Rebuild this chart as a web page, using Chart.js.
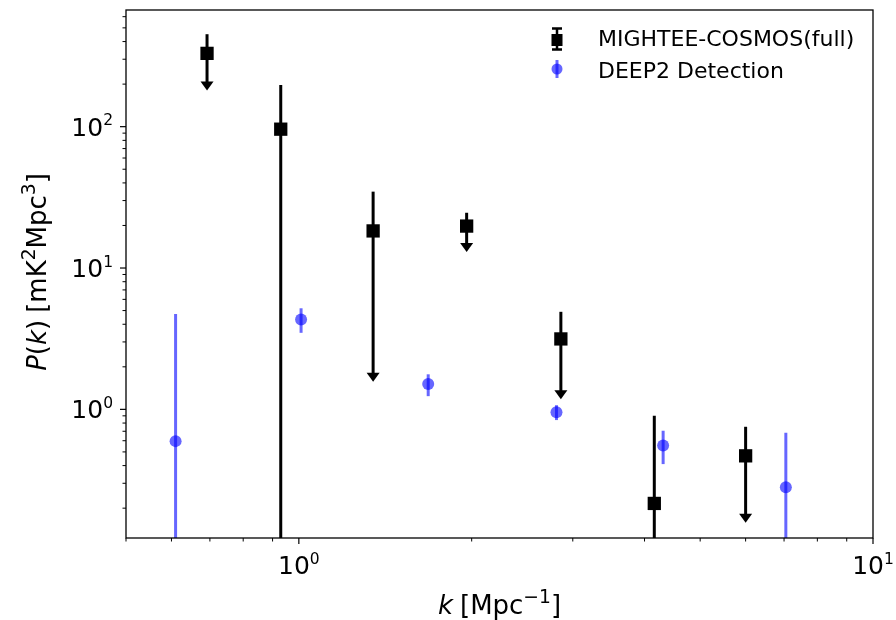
<!DOCTYPE html>
<html>
<head>
<meta charset="utf-8">
<script src="https://cdn.jsdelivr.net/npm/chart.js@4.4.1/dist/chart.umd.min.js"></script>
<style>
  html,body{margin:0;padding:0;background:#fff;}
  #wrap{width:896px;height:620px;}
</style>
</head>
<body>
<div id="wrap"><canvas id="pk" width="896" height="620"></canvas></div>
<script>
// MIGHTEE-COSMOS(full): k, P(k), error top / bottom, upper-limit flag
const mightK  = [0.692, 0.930, 1.347, 1.96, 2.86, 4.16, 6.0];
const mightP  = [330, 96, 18.3, 19.8, 3.15, 0.216, 0.469];
const mightHi = [451, 197, 34.7, 24.6, 4.9, 0.90, 0.753];
const mightLo = [180, 0.01, 1.57, 13.0, 1.18, 0.01, 0.158];
const mightUL = [true, false, true, true, true, false, true];

// DEEP2 Detection
const deepK  = [0.61, 1.009, 1.68, 2.81, 4.31, 7.05];
const deepP  = [0.596, 4.33, 1.51, 0.953, 0.556, 0.281];
const deepHi = [4.73, 5.19, 1.77, 1.07, 0.706, 0.684];
const deepLo = [0.01, 3.48, 1.24, 0.84, 0.41, 0.01];

const xMajor = [1, 10];
const yMajor = [1, 10, 100];
const xRange = [0.5, 10];
const yRange = [0.123, 669];

const FONT = '"DejaVu Sans", sans-serif';
const BLUE = 'rgba(0,0,255,0.6)';

// draw a run of text pieces: {t, it (italic), sup (superscript)}
function richWidth(ctx, parts, size, ss){
  let w = 0;
  parts.forEach(p=>{
    const s = p.sup ? size*ss : size;
    ctx.font = (p.it ? 'oblique ' : '') + s + 'px ' + FONT;
    w += ctx.measureText(p.t).width + (p.gap||0);
  });
  return w;
}
function drawRich(ctx, parts, x, y, size, ss){
  let cx = x;
  parts.forEach(p=>{
    const s = p.sup ? size*ss : size;
    ctx.font = (p.it ? 'oblique ' : '') + s + 'px ' + FONT;
    ctx.fillText(p.t, cx, p.sup ? y - size*0.42 : y);
    cx += ctx.measureText(p.t).width + (p.gap||0);
  });
}
function pow10(e){ return [{t:'10'},{t:String(e), sup:true}]; }

function minorTicks(lo, hi){
  const out = [];
  for(let d=Math.floor(Math.log10(lo)); d<=Math.ceil(Math.log10(hi)); d++){
    for(let m=2;m<=9;m++){ const v = m*Math.pow(10,d); if(v>=lo*0.999 && v<=hi*1.001) out.push(v); }
  }
  return out;
}

const errPlugin = {
  id:'errbars',
  beforeDatasetsDraw(chart){
    const {ctx, chartArea:a, scales:{x, y}} = chart;
    ctx.save();
    ctx.beginPath(); ctx.rect(a.left, a.top, a.right-a.left, a.bottom-a.top); ctx.clip();
    ctx.lineCap = 'butt';
    // black series
    ctx.strokeStyle = '#000'; ctx.fillStyle = '#000'; ctx.lineWidth = 3;
    mightK.forEach((k,i)=>{
      const px = x.getPixelForValue(k);
      const top = y.getPixelForValue(mightHi[i]);
      const bot = y.getPixelForValue(mightLo[i]);
      ctx.beginPath(); ctx.moveTo(px, top); ctx.lineTo(px, mightUL[i] ? bot-4 : bot); ctx.stroke();
      if(mightUL[i]){
        ctx.beginPath(); ctx.moveTo(px-6.5, bot-9); ctx.lineTo(px+6.5, bot-9); ctx.lineTo(px, bot); ctx.closePath(); ctx.fill();
      }
    });
    // blue series
    ctx.strokeStyle = BLUE; ctx.lineWidth = 3;
    deepK.forEach((k,i)=>{
      const px = x.getPixelForValue(k);
      ctx.beginPath(); ctx.moveTo(px, y.getPixelForValue(deepHi[i])); ctx.lineTo(px, y.getPixelForValue(deepLo[i])); ctx.stroke();
    });
    ctx.restore();
  },
  afterDraw(chart){
    const {ctx, chartArea:a, scales:{x, y}} = chart;
    ctx.save();
    // frame
    ctx.strokeStyle = '#000'; ctx.lineWidth = 1.3;
    ctx.strokeRect(a.left, a.top, a.right-a.left, a.bottom-a.top);
    // ticks
    ctx.lineWidth = 1.2;
    xMajor.forEach(v=>{ const p = x.getPixelForValue(v); ctx.beginPath(); ctx.moveTo(p, a.bottom); ctx.lineTo(p, a.bottom+6); ctx.stroke(); });
    yMajor.forEach(v=>{ const p = y.getPixelForValue(v); ctx.beginPath(); ctx.moveTo(a.left, p); ctx.lineTo(a.left-6, p); ctx.stroke(); });
    ctx.lineWidth = 1;
    minorTicks(xRange[0], xRange[1]).forEach(v=>{ const p = x.getPixelForValue(v); ctx.beginPath(); ctx.moveTo(p, a.bottom); ctx.lineTo(p, a.bottom+3.5); ctx.stroke(); });
    minorTicks(yRange[0], yRange[1]).forEach(v=>{ const p = y.getPixelForValue(v); ctx.beginPath(); ctx.moveTo(a.left, p); ctx.lineTo(a.left-3.5, p); ctx.stroke(); });
    // tick labels
    ctx.fillStyle = '#000'; ctx.textBaseline = 'alphabetic'; ctx.textAlign = 'left';
    const ts = 25;
    xMajor.forEach(v=>{
      const parts = pow10(Math.round(Math.log10(v)));
      const w = richWidth(ctx, parts, ts, 0.62);
      drawRich(ctx, parts, x.getPixelForValue(v) - w/2, a.bottom + 36, ts, 0.62);
    });
    yMajor.forEach(v=>{
      const parts = pow10(Math.round(Math.log10(v)));
      const w = richWidth(ctx, parts, ts, 0.62);
      drawRich(ctx, parts, a.left - 13 - w, y.getPixelForValue(v) + 9, ts, 0.62);
    });
    // axis titles
    const ls = 26;
    const xl = [{t:'k', it:true, gap:7},{t:'[Mpc'},{t:'\u22121', sup:true},{t:']'}];
    const xw = richWidth(ctx, xl, ls, 0.72);
    drawRich(ctx, xl, (a.left+a.right)/2 - xw/2, 614, ls, 0.72);
    const yl = [{t:'P', it:true},{t:'('},{t:'k', it:true},{t:')', gap:7},{t:'[mK'},{t:'2', sup:true},{t:'Mpc'},{t:'3', sup:true},{t:']'}];
    const yw = richWidth(ctx, yl, ls, 0.72);
    ctx.save(); ctx.translate(46, 272); ctx.rotate(-Math.PI/2);
    drawRich(ctx, yl, -yw/2, 0, ls, 0.72);
    ctx.restore();
    // legend
    ctx.strokeStyle = '#000'; ctx.fillStyle = '#000'; ctx.lineWidth = 2.5;
    ctx.beginPath(); ctx.moveTo(557, 28); ctx.lineTo(557, 50);
    ctx.moveTo(552, 28.5); ctx.lineTo(562, 28.5); ctx.moveTo(552, 49.5); ctx.lineTo(562, 49.5); ctx.stroke();
    ctx.fillRect(551.5, 34, 11, 12);
    ctx.strokeStyle = BLUE; ctx.fillStyle = BLUE; ctx.lineWidth = 3;
    ctx.beginPath(); ctx.moveTo(557, 60); ctx.lineTo(557, 78); ctx.stroke();
    ctx.beginPath(); ctx.arc(557, 69, 5.5, 0, Math.PI*2); ctx.fill();
    ctx.fillStyle = '#000'; ctx.font = '22px ' + FONT;
    ctx.fillText('MIGHTEE-COSMOS(full)', 598, 46);
    ctx.fillText('DEEP2 Detection', 598, 77.5);
    ctx.restore();
  }
};

new Chart(document.getElementById('pk').getContext('2d'), {
  type:'scatter',
  data:{
    datasets:[
      { label:'MIGHTEE-COSMOS(full)', data: mightK.map((k,i)=>({x:k, y:mightP[i]})),
        pointStyle:'rect', pointRadius:9.4, backgroundColor:'#000', borderWidth:0 },
      { label:'DEEP2 Detection', data: deepK.map((k,i)=>({x:k, y:deepP[i]})),
        pointStyle:'circle', pointRadius:6, backgroundColor:BLUE, borderWidth:0 }
    ]
  },
  options:{
    responsive:false, animation:false,
    layout:{ padding:{ top:10, right:23, left:0, bottom:0 } },
    plugins:{ legend:{display:false}, tooltip:{enabled:false} },
    scales:{
      x:{ type:'logarithmic', min:xRange[0], max:xRange[1],
          ticks:{display:false}, grid:{display:false}, border:{display:false},
          afterFit(s){ s.height = 82; } },
      y:{ type:'logarithmic', min:yRange[0], max:yRange[1],
          ticks:{display:false}, grid:{display:false}, border:{display:false},
          afterFit(s){ s.width = 126; } }
    }
  },
  plugins:[errPlugin]
});
</script>
</body>
</html>
